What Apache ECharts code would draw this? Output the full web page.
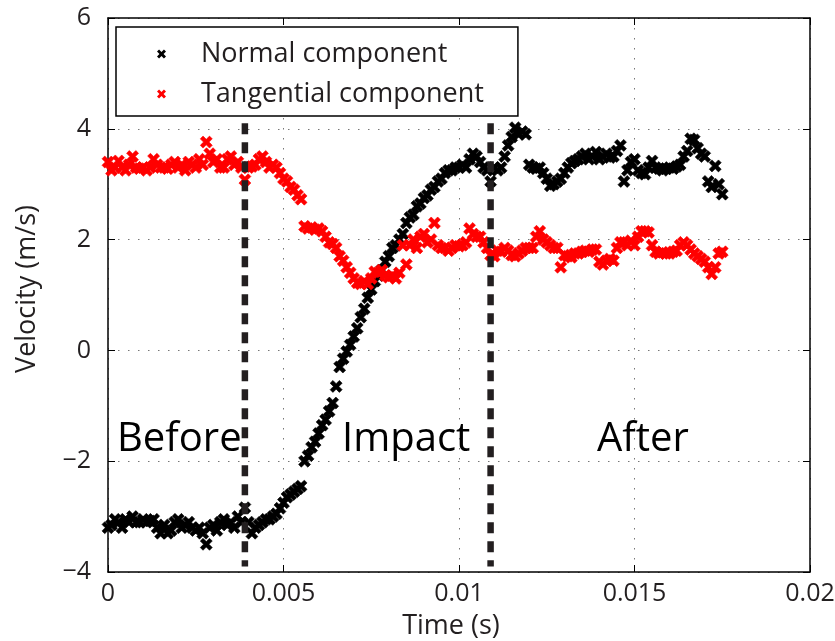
<!DOCTYPE html>
<html>
<head>
<meta charset="utf-8">
<script src="https://cdn.jsdelivr.net/npm/echarts@6/dist/echarts.min.js"></script>
<style>html,body{margin:0;padding:0;background:#fff;}#chart{width:835px;height:641px;}</style>
</head>
<body>
<div id="chart"></div>
<script>
// sample times (s)
var times = [0,0.0001,0.0002,0.0003,0.0004,0.0005,0.0006,0.0007,0.0008,0.0009,
0.001,0.0011,0.0012,0.0013,0.0014,0.0015,0.0016,0.0017,0.0018,0.0019,
0.002,0.0021,0.0022,0.0023,0.0024,0.0025,0.0026,0.0027,0.0028,0.0029,
0.003,0.0031,0.0032,0.0033,0.0034,0.0035,0.0036,0.0037,0.0038,0.0039,
0.004,0.0041,0.0042,0.0043,0.0044,0.0045,0.0046,0.0047,0.0048,0.0049,
0.005,0.0051,0.0052,0.0053,0.0054,0.0055,0.0056,0.0057,0.0058,0.0059,
0.006,0.0061,0.0062,0.0063,0.0064,0.0065,0.0066,0.0067,0.0068,0.0069,
0.007,0.0071,0.0072,0.0073,0.0074,0.0075,0.0076,0.0077,0.0078,0.0079,
0.008,0.0081,0.0082,0.0083,0.0084,0.0085,0.0086,0.0087,0.0088,0.0089,
0.009,0.0091,0.0092,0.0093,0.0094,0.0095,0.0096,0.0097,0.0098,0.0099,
0.01,0.0101,0.0102,0.0103,0.0104,0.0105,0.0106,0.0107,0.0108,0.0109,
0.011,0.0111,0.0112,0.0113,0.0114,0.0115,0.0116,0.0117,0.0118,0.0119,
0.012,0.0121,0.0122,0.0123,0.0124,0.0125,0.0126,0.0127,0.0128,0.0129,
0.013,0.0131,0.0132,0.0133,0.0134,0.0135,0.0136,0.0137,0.0138,0.0139,
0.014,0.0141,0.0142,0.0143,0.0144,0.0145,0.0146,0.0147,0.0148,0.0149,
0.015,0.0151,0.0152,0.0153,0.0154,0.0155,0.0156,0.0157,0.0158,0.0159,
0.016,0.0161,0.0162,0.0163,0.0164,0.0165,0.0166,0.0167,0.0168,0.0169,
0.017,0.0171,0.0172,0.0173,0.0174,0.0175];

// Normal component (m/s)
var normalV = [-3.2,-3.15,-3.05,-3.1,-3.2,-3.05,-3.1,-3.0,-3.1,-3.1,
-3.05,-3.1,-3.08,-3.05,-3.2,-3.3,-3.15,-3.3,-3.25,-3.1,
-3.05,-3.2,-3.15,-3.1,-3.2,-3.25,-3.2,-3.3,-3.5,-3.2,
-3.15,-3.25,-3.1,-3.05,-3.15,-3.1,-3.2,-3.0,-3.1,-2.84,
-3.1,-3.3,-3.2,-3.15,-3.1,-3.05,-3.05,-3.0,-2.95,-2.85,
-2.75,-2.65,-2.6,-2.55,-2.5,-2.45,-2.0,-1.9,-1.75,-1.65,
-1.5,-1.35,-1.25,-1.1,-0.95,-0.65,-0.3,-0.15,-0.02,0.1,
0.25,0.4,0.6,0.75,0.95,1.1,1.25,1.35,1.45,1.6,
1.7,1.85,1.9,2.0,2.1,2.3,2.4,2.45,2.6,2.65,
2.75,2.8,2.9,2.95,3.05,3.1,3.2,3.25,3.25,3.3,
3.3,3.35,3.3,3.45,3.55,3.5,3.4,3.3,3.25,3.05,
3.3,3.25,3.3,3.5,3.7,3.85,4.02,3.9,3.95,3.9,
3.35,3.3,3.28,3.3,3.2,3.1,2.97,3.0,3.05,3.1,
3.2,3.3,3.38,3.42,3.45,3.5,3.55,3.45,3.5,3.58,
3.45,3.5,3.55,3.48,3.5,3.6,3.7,3.05,3.25,3.4,
3.45,3.25,3.2,3.18,3.3,3.42,3.3,3.28,3.25,3.28,
3.3,3.28,3.32,3.35,3.5,3.6,3.82,3.8,3.65,3.55,
3.5,3.05,2.95,3.33,3.0,2.82];

// Tangential component (m/s)
var tangentialV = [3.4,3.25,3.3,3.42,3.3,3.25,3.35,3.5,3.3,3.28,
3.3,3.25,3.3,3.45,3.35,3.3,3.3,3.28,3.35,3.4,
3.3,3.35,3.25,3.4,3.35,3.3,3.45,3.35,3.76,3.55,
3.4,3.45,3.3,3.3,3.45,3.5,3.35,3.4,3.3,3.08,
3.3,3.32,3.35,3.45,3.5,3.4,3.3,3.35,3.3,3.2,
3.1,3.05,2.95,2.9,2.8,2.73,2.24,2.2,2.22,2.18,
2.2,2.15,2.05,1.95,1.92,1.85,1.7,1.62,1.5,1.4,
1.3,1.22,1.2,1.25,1.2,1.3,1.42,1.4,1.45,1.35,
1.32,1.35,1.3,1.4,1.9,1.55,1.9,2.0,1.85,2.05,
2.1,1.95,2.0,2.3,1.9,1.85,1.85,1.8,1.85,1.9,
1.88,1.9,1.95,2.2,2.1,2.05,2.05,1.95,1.85,1.72,
1.7,1.8,1.78,1.85,1.8,1.72,1.7,1.75,1.8,1.85,
1.85,1.85,2.05,2.15,2.0,1.95,1.9,1.85,1.85,1.5,
1.72,1.7,1.68,1.75,1.75,1.78,1.8,1.78,1.82,1.82,
1.6,1.55,1.62,1.65,1.62,1.85,1.95,1.95,1.9,1.98,
1.9,2.05,2.15,2.15,2.13,1.9,1.78,1.75,1.77,1.75,
1.75,1.78,1.8,1.9,1.95,1.9,1.82,1.75,1.7,1.65,
1.6,1.5,1.38,1.5,1.75,1.78];

// phase boundaries (s) and their vertical extent (m/s)
var boundaryTimes = [0.0039, 0.0109];
var boundaryRange = [4.1, -3.9];
var phaseLabels = ['Before', 'Impact', 'After'];
var seriesNames = ['Normal component', 'Tangential component'];
var xTicks = [0, 0.005, 0.01, 0.015, 0.02];
var yTicks = [-4, -2, 0, 2, 4, 6];

var FONT = '"Open Sans", "DejaVu Sans", sans-serif';
var TXT = '#231f20';
var XPATH = 'path://M0,2.3L2.3,0L5,2.7L7.7,0L10,2.3L7.3,5L10,7.7L7.7,10L5,7.3L2.3,10L0,7.7L2.7,5Z';

function pairs(xs, ys) { return xs.map(function (x, i) { return [x, ys[i]]; }); }
function minusFmt(v) { return v < 0 ? '\u2212' + Math.abs(v) : String(v); }

var chart = echarts.init(document.getElementById('chart'), null, {renderer: 'canvas'});

var series = [
  {name: seriesNames[0], type: 'scatter', data: pairs(times, normalV), symbol: XPATH, symbolSize: 12,
   itemStyle: {color: '#000', opacity: 1, borderColor: '#000', borderWidth: 0.6}, z: 3, animation: false},
  {name: seriesNames[1], type: 'scatter', data: pairs(times, tangentialV), symbol: XPATH, symbolSize: 12,
   itemStyle: {color: '#ff0000', opacity: 1, borderColor: '#ff0000', borderWidth: 0.6}, z: 4, animation: false}
];
boundaryTimes.forEach(function (t) {
  series.push({type: 'line', data: [[t, boundaryRange[0]], [t, boundaryRange[1]]], symbol: 'none',
    lineStyle: {color: '#231f20', width: 6.5, type: [11, 8]}, z: 6, silent: true, animation: false});
});

var gridStyle = {show: true, lineStyle: {color: '#777', width: 1, type: [1.5, 8.5]}};

var option = {
  backgroundColor: '#fff',
  animation: false,
  textStyle: {fontFamily: FONT},
  grid: {left: 108, right: 25, top: 18, bottom: 69, containLabel: false, outerBoundsMode: 'none'},
  legend: {
    data: seriesNames.map(function (n) { return {name: n, icon: XPATH, itemStyle: {borderWidth: 0, opacity: 1}}; }),
    orient: 'vertical', left: 116, top: 27,
    padding: [12, 34, 7, 41], itemWidth: 9, itemHeight: 9, itemGap: 10,
    backgroundColor: '#fff', borderColor: '#000', borderWidth: 1.5,
    textStyle: {fontSize: 27, color: TXT, fontFamily: FONT, lineHeight: 30, padding: [0, 0, 0, 30]},
    selectedMode: false, z: 10
  },
  xAxis: [
    {type: 'value', min: xTicks[0], max: xTicks[xTicks.length - 1], interval: 0.005,
     name: 'Time (s)', nameLocation: 'middle', nameGap: 41,
     nameTextStyle: {fontSize: 27, color: TXT, fontFamily: FONT, padding: [0, 16, 0, 0]},
     axisLine: {show: true, onZero: false, lineStyle: {color: '#000', width: 1.5}},
     axisTick: {show: true, inside: true, length: 7, lineStyle: {color: '#000'}},
     axisLabel: {fontSize: 25, color: TXT, margin: 9, fontFamily: FONT,
       formatter: function (v) { return String(v); }},
     splitLine: gridStyle},
    {type: 'value', position: 'top', min: xTicks[0], max: xTicks[xTicks.length - 1], interval: 0.005,
     axisLine: {show: true, onZero: false, lineStyle: {color: '#000', width: 1.5}},
     axisTick: {show: true, inside: true, length: 7, lineStyle: {color: '#000'}},
     axisLabel: {show: false}, splitLine: {show: false}}
  ],
  yAxis: [
    {type: 'value', min: yTicks[0], max: yTicks[yTicks.length - 1], interval: 2,
     name: 'Velocity (m/s)', nameLocation: 'middle', nameGap: 67, nameRotate: 90,
     nameTextStyle: {fontSize: 27, color: TXT, fontFamily: FONT, padding: [0, 0, 0, 12]},
     axisLine: {show: true, onZero: false, lineStyle: {color: '#000', width: 1.5}},
     axisTick: {show: true, inside: true, length: 7, lineStyle: {color: '#000'}},
     axisLabel: {fontSize: 25, color: TXT, margin: 17, fontFamily: FONT, formatter: minusFmt},
     splitLine: gridStyle},
    {type: 'value', position: 'right', min: yTicks[0], max: yTicks[yTicks.length - 1], interval: 2,
     axisLine: {show: true, onZero: false, lineStyle: {color: '#000', width: 1.5}},
     axisTick: {show: true, inside: true, length: 7, lineStyle: {color: '#000'}},
     axisLabel: {show: false}, splitLine: {show: false}}
  ],
  graphic: [
    {type: 'text', left: 117, top: 420, z: 5, style: {text: phaseLabels[0], font: '40px ' + FONT, fill: '#000'}},
    {type: 'text', left: 342, top: 420, z: 5, style: {text: phaseLabels[1], font: '40px ' + FONT, fill: '#000'}},
    {type: 'text', left: 597, top: 420, z: 5, style: {text: phaseLabels[2], font: '40px ' + FONT, fill: '#000'}}
  ],
  series: series
};
chart.setOption(option);
</script>
</body>
</html>
